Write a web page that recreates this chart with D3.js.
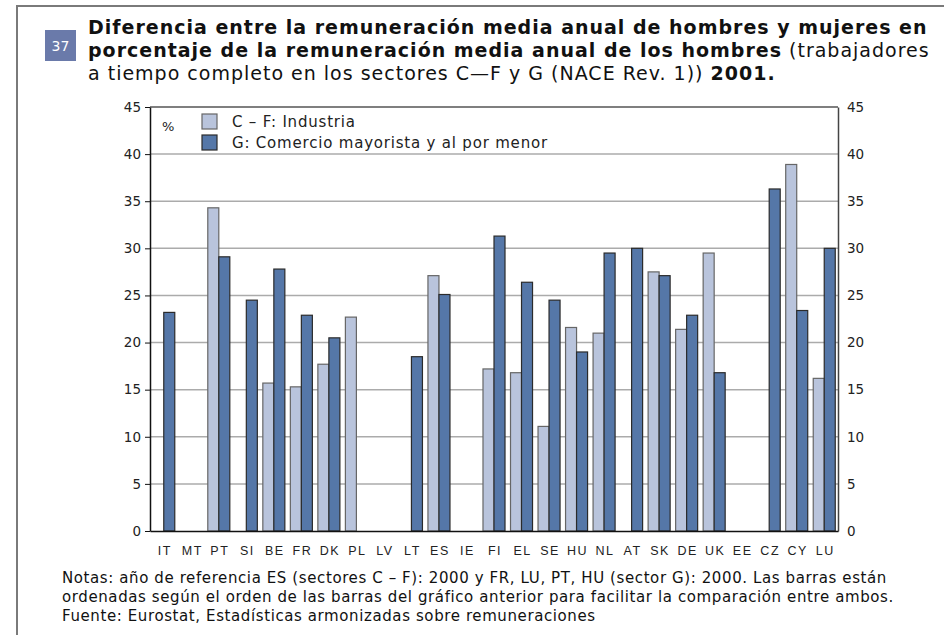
<!DOCTYPE html>
<html>
<head>
<meta charset="utf-8">
<script src="https://cdn.jsdelivr.net/npm/d3@7"></script>
<style>
  body { margin: 0; background: #fff; }
  svg { display: block; font-family: "DejaVu Sans", Verdana, sans-serif; }
</style>
</head>
<body>
<svg id="chart" width="944" height="635"></svg>
<script>
// Countries in the order of the bars
const countries = ['IT','MT','PT','SI','BE','FR','DK','PL','LV','LT','ES','IE','FI','EL','SE','HU','NL','AT','SK','DE','UK','EE','CZ','CY','LU'];

// C - F: Industria (null = no data)
const industria = [null, null, 34.3, null, 15.7, 15.3, 17.7, 22.7, null, null, 27.1, null, 17.2, 16.8, 11.1, 21.6, 21.0, null, 27.5, 21.4, 29.5, null, null, 38.9, 16.2];

// G: Comercio mayorista y al por menor
const comercio = [23.2, null, 29.1, 24.5, 27.8, 22.9, 20.5, null, null, 18.5, 25.1, null, 31.3, 26.4, 24.5, 19.0, 29.5, 30.0, 27.1, 22.9, 16.8, null, 36.3, 23.4, 30.0];

const seriesNames = ['C \u2013 F: Industria', 'G: Comercio mayorista y al por menor'];
const yTicks = [0, 5, 10, 15, 20, 25, 30, 35, 40, 45];

const LIGHT = '#b9c4dc';
const DARK = '#5577a8';

let svg = d3.select('#chart');

// outer frame (only top and left edges are visible)
svg.append('path')
    .attr('d', 'M17,640 L17,6 L950,6')
    .attr('fill', 'none')
    .attr('stroke', '#7a7a7a')
    .attr('stroke-width', 2);

// number badge
svg.append('rect')
    .attr('x', 45).attr('y', 30).attr('width', 31).attr('height', 31)
    .attr('fill', '#6a7aaa');
svg.append('text')
    .attr('x', 60.5).attr('y', 51)
    .attr('text-anchor', 'middle')
    .attr('fill', '#fff')
    .style('font-size', '14px')
    .text('37');

// title, three lines mixing bold and normal
let titleLines = [
    [{t: 'Diferencia entre la remuneración media anual de hombres y mujeres en', b: true}],
    [{t: 'porcentaje de la remuneración media anual de los hombres', b: true}, {t: ' (trabajadores', b: false}],
    [{t: 'a tiempo completo en los sectores C\u2014F y G (NACE Rev. 1)) ', b: false}, {t: '2001.', b: true}]
];
let title = svg.append('text')
    .attr('x', 88)
    .style('font-size', '19px')
    .style('letter-spacing', '1px')
    .attr('fill', '#111');
titleLines.forEach((line, i) => {
    line.forEach((part, j) => {
        let ts = title.append('tspan').text(part.t)
            .style('font-weight', part.b ? 'bold' : 'normal');
        if (j == 0) ts.attr('x', 88).attr('y', 34 + i * 23);
    });
});

// scales
let x = d3.scaleBand()
    .domain(countries)
    .range([150, 838]);

let xSub = d3.scaleBand()
    .domain([0, 1])
    .range([0, x.bandwidth()])
    .paddingOuter(0.25);

let y = d3.scaleLinear()
    .domain([0, 45])
    .range([531, 107]);

// gridlines
svg.append('g')
    .selectAll('line')
    .data(yTicks.filter(d => d > 0 && d < 45))
    .join('line')
    .attr('x1', 150).attr('x2', 838)
    .attr('y1', d => y(d)).attr('y2', d => y(d))
    .attr('stroke', '#ababab')
    .attr('stroke-width', 1.5);

// top border of the plot
svg.append('line')
    .attr('x1', 150).attr('x2', 838)
    .attr('y1', y(45)).attr('y2', y(45))
    .attr('stroke', '#555')
    .attr('stroke-width', 1.5);

// build bar data
let bars = [];
countries.forEach((c, i) => {
    if (industria[i] != null) bars.push({c: c, s: 0, v: industria[i]});
    if (comercio[i] != null) bars.push({c: c, s: 1, v: comercio[i]});
});

svg.append('g')
    .selectAll('rect')
    .data(bars)
    .join('rect')
    .attr('x', d => x(d.c) + xSub(d.s))
    .attr('y', d => y(d.v))
    .attr('width', xSub.bandwidth())
    .attr('height', d => y(0) - y(d.v))
    .attr('fill', d => d.s == 0 ? LIGHT : DARK)
    .attr('stroke', d => d.s == 0 ? '#666' : '#2b2b2b')
    .attr('stroke-width', 1.2);

// left axis
let yAxisL = svg.append('g')
    .attr('transform', 'translate(150,0)')
    .call(d3.axisLeft(y).tickValues(yTicks).tickSize(5).tickSizeOuter(0).tickPadding(4));
yAxisL.select('.domain').attr('stroke', '#111').attr('stroke-width', 1.5);
yAxisL.selectAll('.tick line').attr('stroke', '#111');

// right axis
let yAxisR = svg.append('g')
    .attr('transform', 'translate(838,0)')
    .call(d3.axisRight(y).tickValues(yTicks).tickSize(0).tickPadding(9));
yAxisR.select('.domain').attr('stroke', '#444').attr('stroke-width', 1.5);

svg.selectAll('.tick text')
    .attr('fill', '#222')
    .style('font-size', '13.5px')
    .style('font-family', '"DejaVu Sans", Verdana, sans-serif');

// bottom axis with country labels
let xAxis = svg.append('g')
    .attr('transform', 'translate(0,531)')
    .call(d3.axisBottom(x).tickSize(0).tickPadding(15));
xAxis.select('.domain').attr('stroke', '#111').attr('stroke-width', 1.5);
xAxis.selectAll('.tick text')
    .attr('fill', '#222')
    .attr('dx', 1)
    .style('font-size', '12.5px')
    .style('letter-spacing', '1.5px');

// legend
svg.append('text')
    .attr('x', 162).attr('y', 131)
    .attr('fill', '#222')
    .style('font-size', '13px')
    .text('%');

let legend = svg.append('g')
    .selectAll('g')
    .data(seriesNames)
    .join('g')
    .attr('transform', (d, i) => `translate(202,${114 + i * 21})`);
legend.append('rect')
    .attr('width', 15).attr('height', 15)
    .attr('fill', (d, i) => i == 0 ? LIGHT : DARK)
    .attr('stroke', (d, i) => i == 0 ? '#666' : '#2b2b2b')
    .attr('stroke-width', 1.2);
legend.append('text')
    .attr('x', 30).attr('y', 13)
    .attr('fill', '#222')
    .style('font-size', '15px')
    .style('letter-spacing', '0.8px')
    .text(d => d);

// notes and source
let notes = [
    'Notas: año de referencia ES (sectores C \u2013 F): 2000 y FR, LU, PT, HU (sector G): 2000. Las barras están',
    'ordenadas según el orden de las barras del gráfico anterior para facilitar la comparación entre ambos.',
    'Fuente: Eurostat, Estadísticas armonizadas sobre remuneraciones'
];
svg.append('g')
    .selectAll('text')
    .data(notes)
    .join('text')
    .attr('x', 62)
    .attr('y', (d, i) => 583 + i * 19)
    .attr('fill', '#111')
    .style('font-size', '15px')
    .style('letter-spacing', '0.6px')
    .text(d => d);
</script>
</body>
</html>
